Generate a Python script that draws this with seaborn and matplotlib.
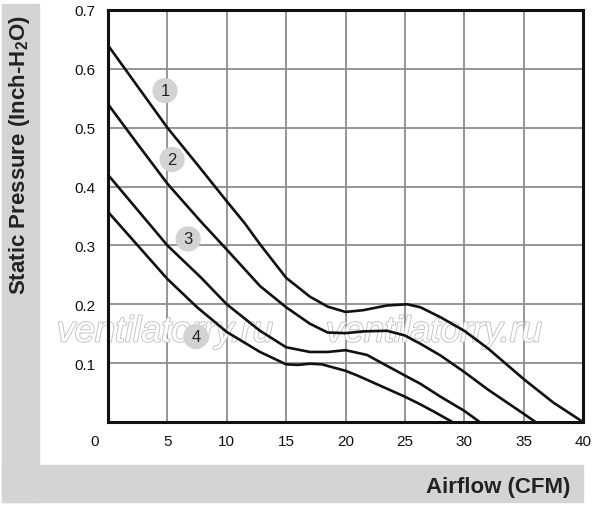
import numpy as np
import matplotlib
matplotlib.use("Agg")
import matplotlib.pyplot as plt
import matplotlib.patheffects as pe
import matplotlib.transforms as mtransforms
import pandas as pd
import seaborn as sns

# curve data (Airflow CFM, Static Pressure inch-H2O)
c1_x = [0, 2.5, 5, 7.5, 10, 11.5, 12.8, 15, 17, 18.5, 20, 21.5, 23.5, 25.2, 26.3, 28, 30, 32, 35, 37.5, 40]
c1_y = [0.64, 0.57, 0.50, 0.438, 0.375, 0.338, 0.302, 0.245, 0.213, 0.196, 0.187, 0.19, 0.198, 0.200, 0.195,
        0.178, 0.155, 0.125, 0.073, 0.033, 0.0]

c2_x = [0, 2.5, 5, 7.8, 10, 12.8, 15, 17, 18.5, 20, 21.5, 23.5, 25, 26.3, 28, 30, 32, 35, 36]
c2_y = [0.54, 0.472, 0.405, 0.341, 0.293, 0.231, 0.195, 0.167, 0.152, 0.151, 0.154, 0.155, 0.147, 0.133,
        0.113, 0.085, 0.055, 0.014, 0.0]

c3_x = [0, 2.5, 5, 7.8, 10, 12.8, 15, 17, 18.5, 20, 21.8, 25, 26.3, 28, 30, 31.3]
c3_y = [0.42, 0.36, 0.30, 0.246, 0.2, 0.155, 0.127, 0.119, 0.119, 0.122, 0.114, 0.079, 0.065, 0.043, 0.019, 0.0]

c4_x = [0, 2.5, 5, 7.5, 10, 12.8, 15, 16, 17, 18, 20, 21, 25, 26.3, 27.5, 29]
c4_y = [0.357, 0.30, 0.243, 0.195, 0.153, 0.119, 0.098, 0.097, 0.099, 0.098, 0.087, 0.079, 0.043, 0.03, 0.017, 0.0]

curve_names = ["1", "2", "3", "4"]
label_x = [4.8, 5.4, 6.75, 7.4]
label_y = [0.563, 0.446, 0.311, 0.145]

x_ticks = [0, 5, 10, 15, 20, 25, 30, 35, 40]
y_ticks = [0.1, 0.2, 0.3, 0.4, 0.5, 0.6, 0.7]

frames = []
for name, xs, ys in zip(curve_names, [c1_x, c2_x, c3_x, c4_x], [c1_y, c2_y, c3_y, c4_y]):
    frames.append(pd.DataFrame({"airflow": xs, "pressure": ys, "curve": name}))
df = pd.concat(frames, ignore_index=True)
labels = pd.DataFrame({"x": label_x, "y": label_y, "name": curve_names})

sns.set_style("white")
plt.rcParams["font.family"] = ["Liberation Sans", "DejaVu Sans"]

fig = plt.figure(figsize=(6, 5.06), dpi=100)
band = "#d3d4d6"
# grey L-shaped frame behind the axis titles
fig.patches.append(plt.Rectangle((2 / 600, 1 - 503 / 506), 37 / 600, 498 / 506,
                                 transform=fig.transFigure, color=band, zorder=0))
fig.patches.append(plt.Rectangle((2 / 600, 1 - 503 / 506), 581 / 600, 37 / 506,
                                 transform=fig.transFigure, color=band, zorder=0))

ax = fig.add_axes([108 / 600, 1 - 423 / 506, 475 / 600, 412 / 506])
ax.set_facecolor("white")

# faint watermark
for tx, ty in [(165, 333), (434, 333)]:
    ax.text(tx / 600, 1 - ty / 506, "ventilatorry.ru", transform=fig.transFigure, fontsize=26,
            style="italic", color="white", ha="center", va="center", zorder=1,
            path_effects=[pe.withStroke(linewidth=1.4, foreground="#c6c6c6")])

sns.lineplot(data=df, x="airflow", y="pressure", units="curve", estimator=None, sort=False,
             color="#111111", linewidth=1.9, ax=ax, zorder=3)
sns.scatterplot(data=labels, x="x", y="y", s=330, color="#d3d3d3", edgecolor="none", ax=ax, zorder=4)
for _, r in labels.iterrows():
    ax.text(r["x"], r["y"], r["name"], ha="center", va="center", fontsize=12, color="#222222", zorder=5)

ax.set_xlim(0, 40)
ax.set_ylim(0, 0.7)
ax.set_xticks(x_ticks)
ax.set_xticklabels([str(v) for v in x_ticks])
ax.set_yticks([0] + y_ticks)
ax.set_yticklabels([""] + [f"{v:.1f}" for v in y_ticks])
ax.grid(True, color="#8e8e8e", linewidth=1.3)
ax.set_axisbelow(True)
ax.tick_params(length=0, labelsize=11, colors="#111111")
ax.tick_params(axis="x", pad=9)
ax.tick_params(axis="y", pad=9)
first = ax.get_xticklabels()[0]
first.set_transform(first.get_transform() + mtransforms.ScaledTranslation(-0.13, 0, fig.dpi_scale_trans))
for s in ax.spines.values():
    s.set_visible(True)
    s.set_color("#111111")
    s.set_linewidth(2.2)
ax.set_xlabel("")
ax.set_ylabel("")

fig.text(20 / 600, 1 - 155 / 506, "Static Pressure (Inch-H$_\\mathregular{2}$O)", rotation=90,
         ha="center", va="center", fontsize=16, fontweight="bold", color="#222222")
fig.text(570 / 600, 1 - 488 / 506, "Airflow (CFM)", ha="right", va="center",
         fontsize=16, fontweight="bold", color="#222222")

fig.savefig("out.png", dpi=100, facecolor="white")
